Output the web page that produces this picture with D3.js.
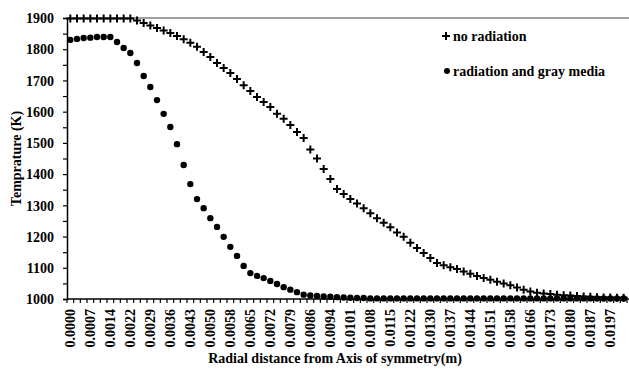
<!DOCTYPE html>
<html>
<head>
<meta charset="utf-8">
<script src="https://cdn.jsdelivr.net/npm/d3@7"></script>
<style>
    body { margin: 0; background: #fff; }
</style>
</head>
<body>
<svg id="chart" width="629" height="369" font-family="'Liberation Serif', 'Times New Roman', Times, serif" font-weight="bold"></svg>
<script>
// temperature (K) at each radial station
const noRadiation = [
    1898, 1898, 1898, 1898, 1898, 1898, 1898, 1898, 1898, 1898,
    1892, 1884, 1876, 1868, 1860, 1852, 1842, 1832, 1821, 1808,
    1791, 1775, 1756, 1740, 1724, 1705, 1685, 1666, 1647, 1631,
    1615, 1593, 1577, 1557, 1535, 1516, 1479, 1450, 1416, 1384,
    1352, 1336, 1320, 1306, 1291, 1275, 1259, 1244, 1230, 1213,
    1199, 1180, 1163, 1147, 1131, 1115, 1108, 1102, 1096, 1088,
    1081, 1074, 1067, 1062, 1055, 1050, 1044, 1037, 1030, 1024,
    1020, 1018, 1016, 1014, 1012, 1011, 1010, 1008, 1007, 1006,
    1005, 1005, 1004, 1004
];
const grayMedia = [
    1830, 1833, 1836, 1837, 1839, 1839, 1839, 1823, 1804, 1788,
    1756, 1714, 1679, 1637, 1593, 1551, 1496, 1429, 1368, 1320,
    1291, 1259, 1231, 1199, 1167, 1138, 1106, 1083, 1074, 1067,
    1058, 1048, 1038, 1030, 1022, 1014, 1011, 1010, 1008, 1007,
    1006, 1005, 1004, 1003, 1003, 1002, 1002, 1002, 1002, 1002,
    1002, 1002, 1002, 1002, 1002, 1002, 1002, 1002, 1002, 1002,
    1002, 1002, 1002, 1002, 1002, 1002, 1002, 1002, 1002, 1002,
    1002, 1002, 1002, 1002, 1002, 1002, 1002, 1002, 1002, 1002,
    1002, 1002, 1002, 1002
];
// every third station is labelled
const tickLabels = [
    "0.0000", "0.0007", "0.0014", "0.0022", "0.0029", "0.0036", "0.0043",
    "0.0050", "0.0058", "0.0065", "0.0072", "0.0079", "0.0086", "0.0094",
    "0.0101", "0.0108", "0.0115", "0.0122", "0.0130", "0.0137", "0.0144",
    "0.0151", "0.0158", "0.0166", "0.0173", "0.0180", "0.0187", "0.0197"
];
const yTicks = [1000, 1100, 1200, 1300, 1400, 1500, 1600, 1700, 1800, 1900];
const labelEvery = 3;

let svg = d3.select("#chart");
const plotLeft = 67, plotRight = 627, plotTop = 18, plotBottom = 299;

let x = d3.scaleBand().domain(d3.range(noRadiation.length)).range([plotLeft, plotRight]).padding(0);
let y = d3.scaleLinear().domain([1000, 1900]).range([plotBottom, plotTop]);
const cx = i => x(i) + x.bandwidth() / 2;

// top border of the plot area
svg.append("line")
    .attr("x1", plotLeft).attr("x2", 629).attr("y1", y(1900)).attr("y2", y(1900))
    .attr("stroke", "#808080").attr("stroke-width", 1.3);

// y axis: labels every 100, ticks every 50
let yAxis = svg.append("g").attr("transform", `translate(${plotLeft},0)`)
    .call(d3.axisLeft(y).tickValues(d3.range(1000, 1901, 50)).tickSize(4)
        .tickFormat(d => yTicks.includes(d) ? d : ""));
yAxis.attr("font-family", null).attr("font-size", null);
yAxis.select(".domain").attr("stroke-width", 1.5);
yAxis.selectAll(".tick line").attr("stroke-width", 1.2);
yAxis.selectAll("text").attr("font-size", "14px").attr("x", -13).attr("dy", "0.34em").attr("fill", "#000");

// x axis: a tick at every category edge, label every third category
let xAxis = svg.append("g").attr("transform", `translate(0,${plotBottom})`);
xAxis.append("line").attr("x1", plotLeft).attr("x2", plotRight + 2).attr("stroke", "#000").attr("stroke-width", 1.5);
xAxis.selectAll("line.tk").data(d3.range(noRadiation.length + 1)).join("line")
    .attr("class", "tk")
    .attr("x1", i => plotLeft + i * x.bandwidth()).attr("x2", i => plotLeft + i * x.bandwidth())
    .attr("y1", 0).attr("y2", 4)
    .attr("stroke", "#000").attr("stroke-width", 1.2);
xAxis.selectAll("text").data(tickLabels).join("text")
    .attr("transform", (d, k) => `translate(${cx(k * labelEvery) + 5},10) rotate(-90)`)
    .attr("text-anchor", "end")
    .attr("font-size", "14px")
    .text(d => d);

// axis titles
svg.append("text")
    .attr("x", 335).attr("y", 363)
    .attr("text-anchor", "middle").attr("font-size", "14px")
    .text("Radial distance from Axis of symmetry(m)");
svg.append("text")
    .attr("transform", `translate(21,${(plotTop + plotBottom) / 2}) rotate(-90)`)
    .attr("text-anchor", "middle").attr("font-size", "14px")
    .text("Temprature (K)");

// series markers
const crossPath = "M-4,0H4M0,-4V4";
svg.append("g").selectAll("path").data(noRadiation).join("path")
    .attr("transform", (d, i) => `translate(${cx(i)},${y(d)})`)
    .attr("d", crossPath)
    .attr("stroke", "#000").attr("stroke-width", 2).attr("fill", "none");
svg.append("g").selectAll("circle").data(grayMedia).join("circle")
    .attr("cx", (d, i) => cx(i)).attr("cy", d => y(d))
    .attr("r", 3.2).attr("fill", "#000");

// legend
let legend = svg.append("g");
legend.append("path").attr("transform", "translate(446,36)").attr("d", crossPath)
    .attr("stroke", "#000").attr("stroke-width", 2);
legend.append("text").attr("x", 453).attr("y", 41).attr("font-size", "14px").text("no radiation");
legend.append("circle").attr("cx", 447).attr("cy", 71).attr("r", 3).attr("fill", "#000");
legend.append("text").attr("x", 453).attr("y", 76).attr("font-size", "14px").text("radiation and gray media");
</script>
</body>
</html>
